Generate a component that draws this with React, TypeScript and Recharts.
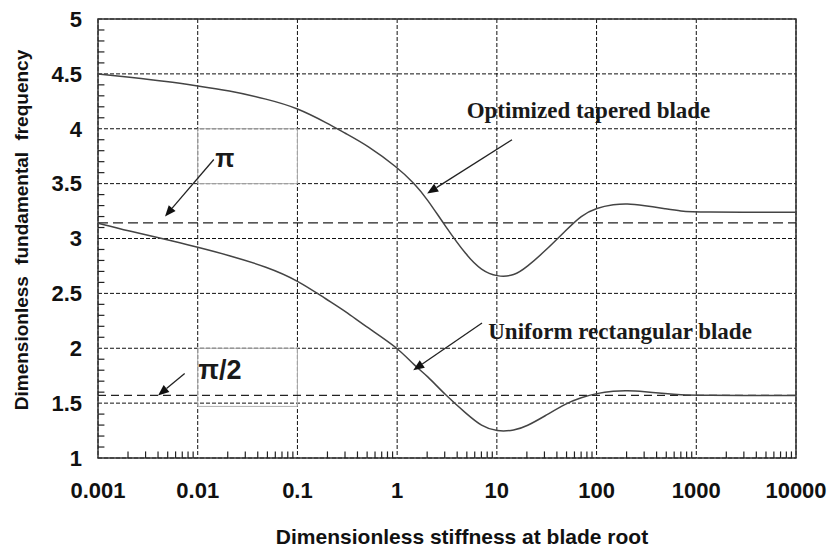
import {
  CartesianGrid,
  Line,
  LineChart,
  ReferenceArea,
  ReferenceDot,
  ReferenceLine,
  XAxis,
  YAxis,
} from "recharts";

const xTicks = [0.001, 0.01, 0.1, 1, 10, 100, 1000, 10000];
const yTicks = [1, 1.5, 2, 2.5, 3, 3.5, 4, 4.5, 5];

const stiffness = [
  0.001, 0.002, 0.005, 0.01, 0.02, 0.05, 0.1, 0.2, 0.3, 0.5, 1, 1.5, 2, 3, 5, 7, 10, 15, 20, 30, 50, 70, 100,
  150, 200, 300, 500, 700, 1000, 10000,
];
const taperedFreq = [
  4.5, 4.47, 4.43, 4.39, 4.35, 4.27, 4.19, 4.05, 3.96, 3.85, 3.65, 3.5, 3.36, 3.12, 2.84, 2.71, 2.65, 2.66, 2.74,
  2.88, 3.08, 3.21, 3.28, 3.31, 3.32, 3.3, 3.27, 3.25, 3.24, 3.24,
];
const uniformFreq = [
  3.14, 3.07, 2.99, 2.92, 2.85, 2.74, 2.62, 2.44, 2.34, 2.19, 2.01, 1.84, 1.75, 1.58, 1.4, 1.29, 1.24, 1.25, 1.29,
  1.38, 1.5, 1.55, 1.59, 1.61, 1.615, 1.605, 1.585, 1.575, 1.57, 1.57,
];

const PI = 3.14159;
const HALF_PI = 1.5708;

const xMinor = [
  0.002, 0.003, 0.004, 0.005, 0.006, 0.007, 0.008, 0.009,
  0.02, 0.03, 0.04, 0.05, 0.06, 0.07, 0.08, 0.09,
  0.2, 0.3, 0.4, 0.5, 0.6, 0.7, 0.8, 0.9,
  2, 3, 4, 5, 6, 7, 8, 9,
  20, 30, 40, 50, 60, 70, 80, 90,
  200, 300, 400, 500, 600, 700, 800, 900,
  2000, 3000, 4000, 5000, 6000, 7000, 8000, 9000,
];
const yMinor = [
  1.1, 1.2, 1.3, 1.4, 1.6, 1.7, 1.8, 1.9, 2.1, 2.2, 2.3, 2.4, 2.6, 2.7, 2.8, 2.9, 3.1, 3.2, 3.3, 3.4,
  3.6, 3.7, 3.8, 3.9, 4.1, 4.2, 4.3, 4.4, 4.6, 4.7, 4.8, 4.9,
];

// arrows: [fromX, fromY, toX, toY]
const arrows = [
  [0.0145, 3.72, 0.0047, 3.2],
  [0.0074, 1.77, 0.004, 1.57],
  [14.2, 3.9, 2.0, 3.41],
  [7.1, 2.23, 1.45, 1.8],
];

const notes = [
  { x: 83, y: 4.17, text: "Optimized tapered blade", serif: true, size: 23 },
  { x: 172, y: 2.15, text: "Uniform rectangular blade", serif: true, size: 23 },
  { x: 0.0187, y: 3.73, text: "π", serif: false, size: 25 },
  { x: 0.0167, y: 1.8, text: "π/2", serif: false, size: 27 },
];

const data = stiffness.map((s, i) => ({ s, tapered: taperedFreq[i], uniform: uniformFreq[i] }));

const sans = "'Liberation Sans', Arial, sans-serif";
const serif = "'Liberation Serif', 'Times New Roman', serif";

const arrowShape = (p: any) => {
  const { x1, y1, x2, y2 } = p;
  const a = Math.atan2(y2 - y1, x2 - x1);
  const len = 11;
  const w = 4.5;
  const bx = x2 - len * Math.cos(a);
  const by = y2 - len * Math.sin(a);
  const pts = `${x2},${y2} ${bx - w * Math.sin(a)},${by + w * Math.cos(a)} ${bx + w * Math.sin(a)},${by - w * Math.cos(a)}`;
  return (
    <g>
      <line x1={x1} y1={y1} x2={bx} y2={by} stroke="#222" strokeWidth={1.3} />
      <polygon points={pts} fill="#111" />
    </g>
  );
};

export default function App() {
  return (
    <div style={{ position: "absolute", left: 0, top: 0, width: 832, height: 554, background: "#fff" }}>
      <LineChart width={832} height={554} data={data} margin={{ top: 19, right: 36, left: 0, bottom: 0 }}>
        <CartesianGrid stroke="#111" strokeDasharray="4 2" />
        <XAxis
          dataKey="s"
          type="number"
          scale="log"
          domain={[0.001, 10000]}
          allowDataOverflow
          ticks={xTicks}
          interval={0}
          height={96}
          tickLine={false}
          axisLine={false}
          tickMargin={18}
          tickFormatter={(v: number) => String(v)}
          tick={{ fontFamily: sans, fontWeight: 700, fontSize: 22, fill: "#111" }}
        />
        <YAxis
          type="number"
          domain={[1, 5]}
          ticks={yTicks}
          interval={0}
          width={98}
          tickLine={false}
          axisLine={false}
          tickMargin={10}
          tick={{ fontFamily: sans, fontWeight: 700, fontSize: 22, fill: "#111" }}
        />
        <ReferenceArea x1={0.01} x2={0.1} y1={3.5} y2={4} fill="none" stroke="#b0b0b0" strokeWidth={1} />
        <ReferenceArea x1={0.01} x2={0.1} y1={1.47} y2={2} fill="none" stroke="#b0b0b0" strokeWidth={1} />
        <ReferenceLine y={PI} stroke="#222" strokeWidth={1.2} strokeDasharray="10 5" />
        <ReferenceLine y={HALF_PI} stroke="#222" strokeWidth={1.2} strokeDasharray="8 5" />
        <ReferenceArea x1={0.001} x2={10000} y1={1} y2={5} fill="none" stroke="#333" strokeWidth={1.5} />
        <Line
          type="basis"
          dataKey="tapered"
          stroke="#444"
          strokeWidth={1.5}
          dot={false}
          isAnimationActive={false}
        />
        <Line
          type="basis"
          dataKey="uniform"
          stroke="#444"
          strokeWidth={1.5}
          dot={false}
          isAnimationActive={false}
        />
        {arrows.map(([fx, fy, tx, ty], i) => (
          <ReferenceLine
            key={`arrow-${i}`}
            segment={[
              { x: fx, y: fy },
              { x: tx, y: ty },
            ]}
            shape={arrowShape}
          />
        ))}
        {xMinor.map((v, i) => (
          <ReferenceLine
            key={`xm-${i}`}
            segment={[
              { x: v, y: 1 },
              { x: v, y: 1.06 },
            ]}
            stroke="#222"
            strokeWidth={1.2}
          />
        ))}
        {yMinor.map((v, i) => (
          <ReferenceLine
            key={`ym-${i}`}
            segment={[
              { x: 0.001, y: v },
              { x: 0.00116, y: v },
            ]}
            stroke="#222"
            strokeWidth={1.2}
          />
        ))}
        {notes.map((n) => (
          <ReferenceDot
            key={n.text}
            x={n.x}
            y={n.y}
            r={0}
            shape={(p: any) => (
              <text
                x={p.cx}
                y={p.cy}
                textAnchor="middle"
                dominantBaseline="central"
                fontFamily={n.serif ? serif : sans}
                fontWeight={700}
                fontSize={n.size}
                fill="#1a1a1a"
              >
                {n.text}
              </text>
            )}
          />
        ))}
      </LineChart>
      <div
        style={{
          position: "absolute",
          left: 462,
          top: 537,
          transform: "translate(-50%, -50%)",
          whiteSpace: "nowrap",
          fontFamily: sans,
          fontWeight: 700,
          fontSize: 21,
          color: "#111",
        }}
      >
        Dimensionless stiffness at blade root
      </div>
      <div
        style={{
          position: "absolute",
          left: 22,
          top: 230,
          transform: "translate(-50%, -50%) rotate(-90deg)",
          whiteSpace: "nowrap",
          fontFamily: sans,
          fontWeight: 700,
          fontSize: 19,
          wordSpacing: 6,
          color: "#111",
        }}
      >
        Dimensionless fundamental frequency
      </div>
    </div>
  );
}
